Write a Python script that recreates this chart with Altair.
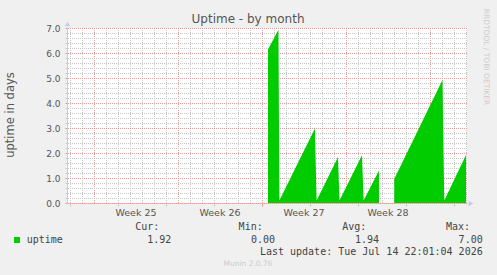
import altair as alt
import pandas as pd

# ---- data (x in days from the left edge of the plot, y in days of uptime)
seg_a_x = [16.75, 17.62, 17.70, 20.66, 20.80, 22.58, 22.71, 24.58, 24.72, 26.00]
seg_a_y = [6.14, 6.93, 0.10, 2.98, 0.10, 1.83, 0.10, 1.91, 0.10, 1.30]
seg_b_x = [27.27, 31.29, 31.44, 33.25]
seg_b_y = [0.96, 4.92, 0.10, 1.92]

week_labels = ["Week 25", "Week 26", "Week 27", "Week 28"]
week_centers = [5.75, 12.75, 19.75, 26.75]
week_bounds = [2.25, 9.25, 16.25, 23.25, 30.25]
day_lines = [0.25 + k for k in range(34)]
y_ticks = [round(i * 0.2, 1) for i in range(36)]

stat_names = ["Cur:", "Min:", "Avg:", "Max:"]
stat_values = ["1.92", "0.00", "1.94", "7.00"]
series_name = "uptime"
last_update = "Last update: Tue Jul 14 22:01:04 2026"

W, H = 400, 175
X_MAX = 400 / 12

df = pd.DataFrame({
    "x": seg_a_x + seg_b_x,
    "y": seg_a_y + seg_b_y,
    "seg": ["a"] * len(seg_a_x) + ["b"] * len(seg_b_x),
})

GREEN = "#00CC00"
AXIS = "#C8C8F0"
MINOR = "#C6C6C6"
MAJOR = "#EC9A9A"

xscale = alt.Scale(domain=[0, X_MAX], nice=False, zero=False)
yscale = alt.Scale(domain=[0, 7], nice=False)
kind_scale = alt.Scale(domain=["minor", "major"], range=[MINOR, MAJOR])

vgrid = pd.DataFrame({
    "v": day_lines,
    "kind": ["major" if d in week_bounds else "minor" for d in day_lines],
})
hgrid = pd.DataFrame({
    "v": y_ticks,
    "kind": ["major" if t % 1 == 0 else "minor" for t in y_ticks],
})

wb_test = "indexof(%s, datum.value) >= 0" % str(week_bounds)
xaxis = alt.Axis(
    values=day_lines, labels=False, title=None, grid=False,
    tickColor={"condition": {"test": wb_test, "value": MAJOR}, "value": "#CCCCCC"},
    tickSize=3, domainColor=AXIS, domainWidth=1,
)
yaxis = alt.Axis(
    values=y_ticks, title=None, grid=False,
    tickColor={"condition": {"test": "datum.value % 1 == 0", "value": "#AAAAAA"}, "value": "#CCCCCC"},
    tickSize=2,
    labelExpr="datum.value % 1 == 0 ? format(datum.value, '.1f') : ''",
    labelFont="DejaVu Sans", labelFontSize=9, labelColor="#555555", labelPadding=5,
    domainColor=AXIS, domainWidth=1,
)

vlines = alt.Chart(vgrid).mark_rule(strokeDash=[1, 1], strokeWidth=1, xOffset=0.5).encode(
    x=alt.X("v:Q", scale=xscale, axis=xaxis),
    color=alt.Color("kind:N", scale=kind_scale, legend=None),
)
hlines = alt.Chart(hgrid).mark_rule(strokeDash=[1, 1], strokeWidth=1, yOffset=0.5).encode(
    y=alt.Y("v:Q", scale=yscale, axis=yaxis),
    color=alt.Color("kind:N", scale=kind_scale, legend=None),
)

area = alt.Chart(df).mark_area(color=GREEN, opacity=1, interpolate="linear").encode(
    x=alt.X("x:Q", scale=xscale, axis=xaxis),
    y=alt.Y("y:Q", scale=yscale, axis=yaxis, stack=None),
    detail="seg:N",
)

weeks = alt.Chart(pd.DataFrame({"label": week_labels, "pos": week_centers})).mark_text(
    font="DejaVu Sans", fontSize=9.5, color="#555555", baseline="middle", align="center"
).encode(x=alt.X("pos:Q", scale=xscale), y=alt.value(184.7), text="label:N")


def txt(text, x, y, size=10, font="DejaVu Sans Mono", color="#444444", align="left", angle=0):
    return alt.Chart(pd.DataFrame({"t": [text]})).mark_text(
        font=font, fontSize=size, color=color, align=align, baseline="middle", angle=angle
    ).encode(x=alt.value(x), y=alt.value(y), text="t:N")


def marker(shape, x, y, size, color):
    return alt.Chart(pd.DataFrame({"t": [0]})).mark_point(
        shape=shape, filled=True, size=size, color=color, opacity=1
    ).encode(x=alt.value(x), y=alt.value(y))


layers = [vlines, hlines, area, weeks,
          marker("triangle-up", 0.5, -4, 30, AXIS),
          marker("triangle-right", 404, H + 0.5, 30, AXIS),
          txt("Uptime - by month", 181, -9, size=12, font="DejaVu Sans", color="#555555", align="center"),
          txt("uptime in days", -56, 87, size=11.5, font="DejaVu Sans", color="#555555", align="center", angle=270),
          txt("RRDTOOL / TOBI OETIKER", 419, 29, size=7.5, font="DejaVu Sans", color="#CCCCCC", align="center", angle=90),
          txt("Munin 2.0.76", 181, 236, size=7.5, font="DejaVu Sans", color="#CCCCCC", align="center"),
          marker("square", -50, 212, 36, GREEN),
          txt(series_name, -40.3, 212),
          txt(last_update, 415.7, 223.7, align="right")]

name_right = [92.3, 195.7, 299.3, 403.0]
val_right = [104.3, 208.0, 312.0, 415.7]
for n, v, xn, xv in zip(stat_names, stat_values, name_right, val_right):
    layers.append(txt(n, xn, 198.7, align="right"))
    layers.append(txt(v, xv, 212, align="right"))

chart = alt.layer(*layers).properties(
    width=W, height=H,
    autosize="none",
    padding={"left": 67, "top": 28, "right": 30, "bottom": 72},
    background="#F0F0F0",
).configure_view(fill="white", stroke=None)

chart.save("out.html", embed_options={"renderer": "svg", "actions": False})
